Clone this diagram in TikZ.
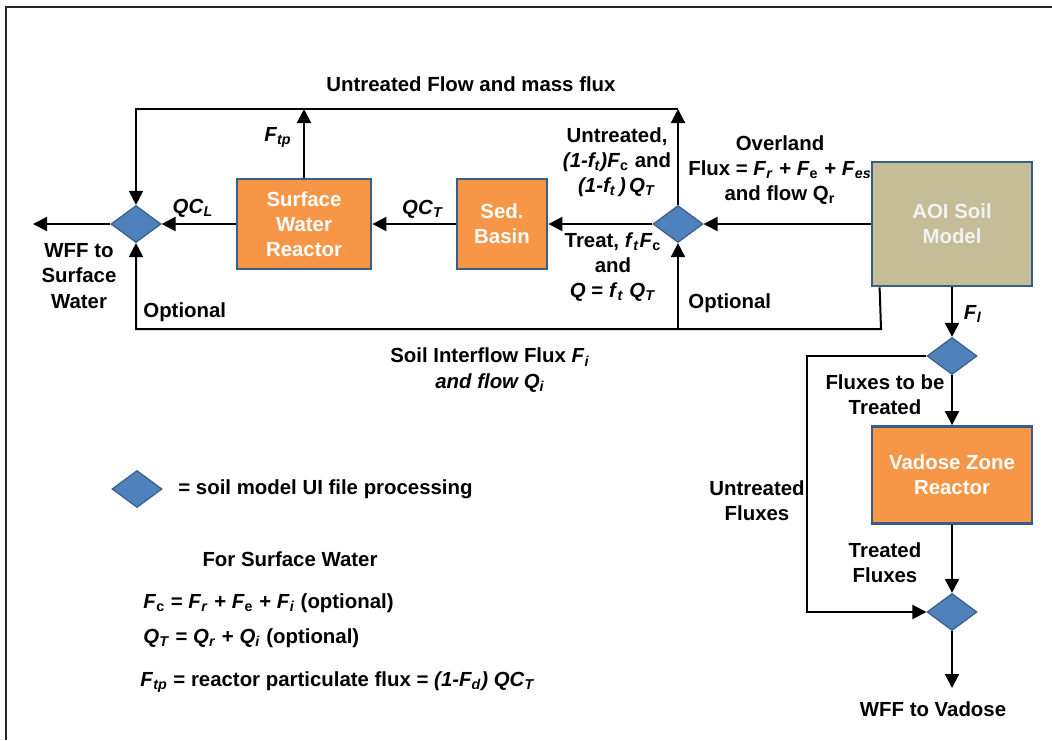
\documentclass[tikz,border=0pt]{standalone}
\usepackage{fontspec}
\setmainfont{Liberation Sans}
\usetikzlibrary{calc,positioning,shapes.geometric,arrows.meta}

\definecolor{boxorange}{HTML}{F79646}
\definecolor{boxedge}{HTML}{385D8A}
\definecolor{splitblue}{HTML}{4F81BD}
\definecolor{soiltan}{HTML}{C4BD97}

% variable with italic / upright subscript
\newcommand{\fv}[2]{\textit{#1}\textsubscript{\textit{#2}}}
\newcommand{\fu}[2]{\textit{#1}\textsubscript{#2}}

\tikzset{
	flow/.style={line width=1pt,-{Triangle[length=7pt,width=7pt]}},
	pipe/.style={line width=1pt},
	reactor/.style={draw=boxedge,fill=boxorange,line width=1.4pt,text=white,align=center,inner sep=0pt},
	split/.style={diamond,draw=boxedge,fill=splitblue,line width=0.6pt,minimum width=25pt,minimum height=18.5pt,inner sep=0pt},
	lbl/.style={inner sep=0pt,align=center},
}

\begin{document}
\begin{tikzpicture}[x=0.5pt,y=-0.5pt,font=\fontsize{10.2}{12.6}\selectfont\bfseries]
		\useasboundingbox (0,0) rectangle (1052,740);
		\draw[line width=1pt,black!85] (6,740) -- (6,7) -- (1052,7);

		% boxes and splitters
		\node[reactor,minimum width=67pt,minimum height=45pt] (swr) at (304,224) {Surface\\Water\\Reactor};
		\node[reactor,minimum width=45pt,minimum height=45pt] (sed) at (502,224) {Sed.\\Basin};
		\node[reactor,fill=soiltan,text=white!95!black,minimum width=80pt,minimum height=62pt] (aoi) at (952,224) {AOI Soil\\Model};
		\node[reactor,minimum width=80pt,minimum height=48.5pt] (vzr) at (952,475) {Vadose Zone\\Reactor};
		\node[split] (dL) at (136,224) {};
		\node[split] (dR) at (678,224) {};
		\node[split] (dV1) at (952,356) {};
		\node[split] (dV2) at (952,612) {};
		\node[split] (key) at (137,489) {};

		\coordinate (topL) at (136,109);
		\coordinate (topR) at (678,109);
		\coordinate (botL) at (136,329);
		\coordinate (botR) at (881,329);
		\coordinate (wffS) at (33,224);
		\coordinate (wffV) at (952,688);
		\coordinate (sideV) at (807,356);

		% surface water chain
		\draw[flow] (aoi.west) -- (dR.east);
		\draw[flow] (dR.west) -- (sed.east);
		\draw[flow] (sed.west) -- (swr.east);
		\draw[flow] (swr.west) -- (dL.east);
		\draw[flow] (dL.west) -- (wffS);
		\draw[flow] (swr.north) -- (swr.north |- topL);
		\draw[flow] (dR.north) -- (topR);
		\draw[flow] (topR) -- (topL) -- (dL.north);
		\draw[flow] ($(aoi.south west)+(9,0)$) -- (botR) -- (botL) -- (dL.south);
		\draw[flow] (dR.south |- botL) -- (dR.south);

		% vadose chain
		\draw[flow] (aoi.south) -- (dV1.north);
		\draw[flow] (dV1.south) -- (vzr.north);
		\draw[flow] (vzr.south) -- (dV2.north);
		\draw[flow] (dV1.west) -- (sideV) -- (sideV |- dV2) -- (dV2.west);
		\draw[flow] (dV2.south) -- (wffV);

		% labels
		\node[lbl] (ttop) at (471,84) {Untreated Flow and mass flux};
		\node[lbl] (tftp) at (278,137) {\fv{F}{tp}};
		\node[lbl] (tqcl) at (193,208) {\fv{QC}{L}};
		\node[lbl] (tqct) at (423,209) {\fv{QC}{T}};
		\node[lbl] (twffs) at (79,276) {WFF to\\Surface\\Water};
		\node[lbl,anchor=west] (topt1) at (143,312) {Optional};
		\node[lbl,anchor=west] (topt2) at (688,303) {Optional};
		\node[lbl] (tunt) at (617,162) {Untreated,\\\textit{(1-\fv{f}{t})}\fu{F}{c} and\\\textit{(1-\fv{f}{t}\,)}\,\fv{Q}{T}};
		\node[lbl] (ttreat) at (613,267) {Treat, \fv{f}{t}\fu{F}{c}\\and\\\textit{Q} = \fv{f}{t} \fv{Q}{T}};
		\node[lbl] (tover) at (780,170) {Overland\\Flux = \fv{F}{r} + \fu{F}{e} + \fv{F}{es}\\and flow Q\textsubscript{r}};
		\node[lbl] (tsoil) at (490,370) {Soil Interflow Flux \fv{F}{i}\\\textit{and flow Q\textsubscript{i}}};
		\node[lbl] (tfl) at (973,314) {\fv{F}{l}};
		\node[lbl] (tfx) at (885,395) {Fluxes to be\\Treated};
		\node[lbl] (tuf) at (757,501) {Untreated\\Fluxes};
		\node[lbl] (ttf) at (885,563) {Treated\\Fluxes};
		\node[lbl] (twffv) at (933,709) {WFF to Vadose};

		% key and notes
		\node[lbl,anchor=west] (tkey) at (178,489) {= soil model UI file processing};
		\node[lbl] (tsw) at (290,559) {For Surface Water};
		\node[lbl,anchor=west] (tfc) at (143,603) {\fu{F}{c} = \fv{F}{r} + \fu{F}{e} + \fv{F}{i} (optional)};
		\node[lbl,anchor=west] (tqt) at (143,638) {\fv{Q}{T} = \fv{Q}{r} + \fv{Q}{i} (optional)};
		\node[lbl,anchor=west] (tftpd) at (140,682) {\fv{F}{tp} = reactor particulate flux = \textit{(1-\fv{F}{d})} \fv{QC}{T}};
\end{tikzpicture}
\end{document}
